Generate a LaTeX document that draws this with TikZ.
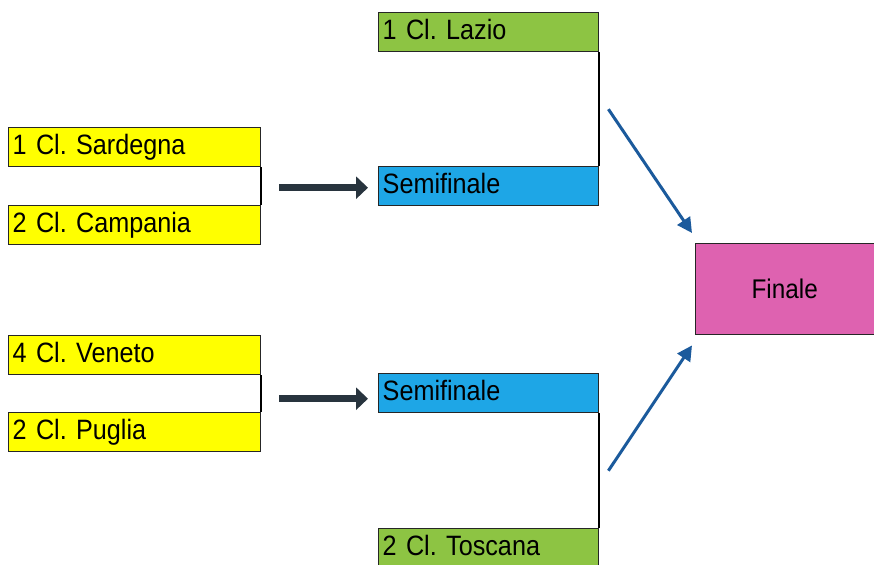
\documentclass[tikz,border=0pt]{standalone}
\usepackage{fontspec}
\setmainfont{Liberation Sans}[FakeStretch=0.9]
\usetikzlibrary{arrows.meta,calc}
\definecolor{ylw}{HTML}{FFFF00}
\definecolor{grn}{HTML}{8DC443}
\definecolor{sky}{HTML}{1EA6E6}
\definecolor{pink}{HTML}{DE62B0}
\definecolor{darrowc}{HTML}{28343E}
\definecolor{barrowc}{HTML}{1B5A9C}
\begin{document}
\begin{tikzpicture}[x=1pt,y=-1pt,
  box/.style={draw=black!85, line width=1.4pt, rectangle, anchor=north west,
    inner xsep=4pt, inner ysep=0pt, text height=20pt, text depth=6pt,
    font=\fontsize{28}{30}\selectfont, align=left},
  lbox/.style={box, minimum width=252pt, minimum height=39pt, text width=244pt},
  rbox/.style={box, minimum width=220pt, minimum height=39pt, text width=212pt},
  bracket/.style={draw=black, line width=2pt},
  darrow/.style={draw=darrowc, line width=6.5pt, -{Triangle[length=12pt 0 0,width=22pt 0 0]}},
  barrow/.style={draw=barrowc, line width=3pt, -{Triangle[length=15pt 0 0,width=15pt 0 0]}}]
\useasboundingbox (0,0) rectangle (874,564);
% left boxes
\node[lbox, fill=ylw] (sar) at (8,127) {1 Cl.\ Sardegna};
\node[lbox, fill=ylw] (cam) at (8,205) {2 Cl.\ Campania};
\node[lbox, fill=ylw] (ven) at (8,335) {4 Cl.\ Veneto};
\node[lbox, fill=ylw] (pug) at (8,412) {2 Cl.\ Puglia};
% middle boxes
\node[rbox, fill=grn] (laz) at (378,12) {1 Cl.\ Lazio};
\node[rbox, fill=sky] (sem1) at (378,166) {Semifinale};
\node[rbox, fill=sky] (sem2) at (378,373) {Semifinale};
\node[rbox, fill=grn] (tos) at (378,528) {2 Cl.\ Toscana};
% final
\node[draw=black!85, line width=1.4pt, fill=pink, anchor=north west,
  minimum width=190pt, minimum height=91pt, inner sep=0pt,
  font=\fontsize{27}{29}\selectfont] (fin) at (695,243) {\hspace*{-12pt}Finale};
% brackets
\draw[bracket] (sar.south east) -- (cam.north east);
\draw[bracket] (ven.south east) -- (pug.north east);
\draw[bracket] (laz.south east) -- (sem1.north east);
\draw[bracket] (sem2.south east) -- (tos.north east);
% dark arrows
\coordinate (b1) at ($(sar.south east)!0.5!(cam.north east)+(18,1.5)$);
\coordinate (b2) at ($(ven.south east)!0.5!(pug.north east)+(18,5)$);
\draw[darrow] (b1) -- ($(b1 -| sem1.west)+(-10,0)$);
\draw[darrow] (b2) -- ($(b2 -| sem2.west)+(-10,0)$);
% blue arrows
\coordinate (m1) at ($(laz.south east)!0.5!(sem1.north east)+(9,0)$);
\coordinate (m2) at ($(sem2.south east)!0.5!(tos.north east)+(9,0)$);
\draw[barrow] (m1) -- ($(fin.north west)+(-3,-10)$);
\draw[barrow] (m2) -- ($(fin.south west)+(-3,10)$);
\end{tikzpicture}
\end{document}
